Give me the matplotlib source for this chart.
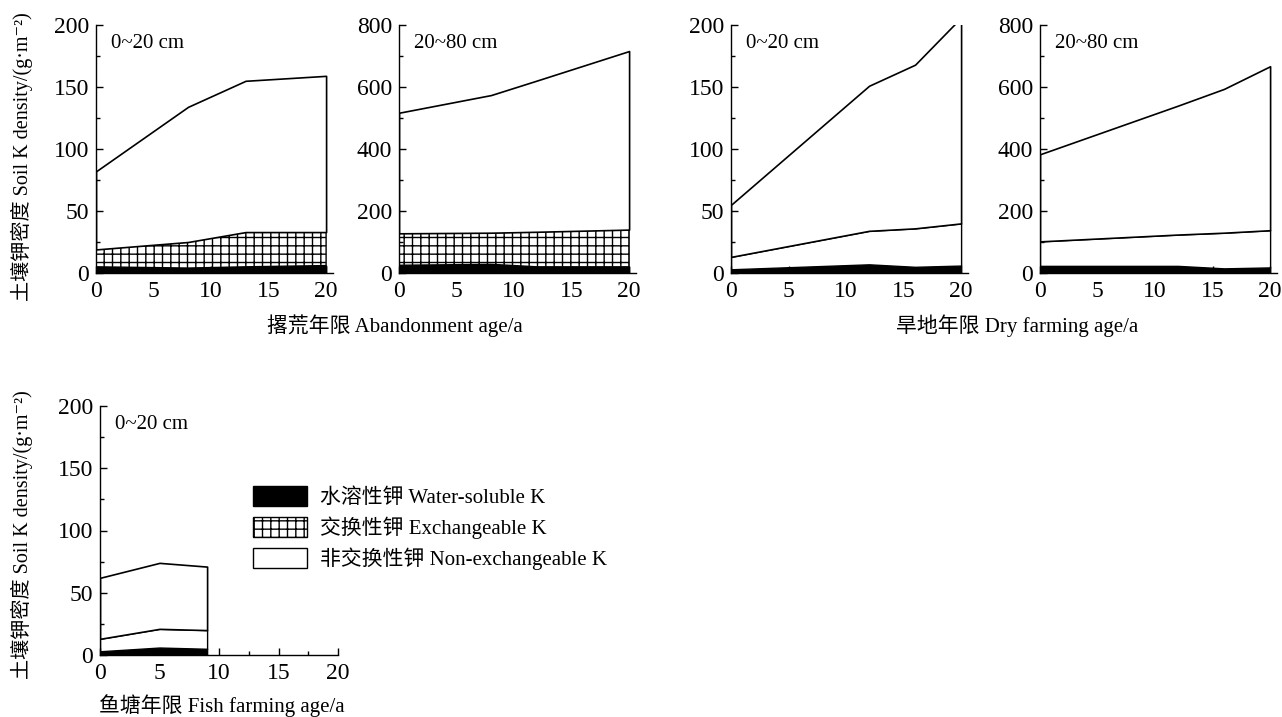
import numpy as np
import matplotlib
matplotlib.use('Agg')
import matplotlib.pyplot as plt
from matplotlib.patches import Patch

plt.rcParams['font.family'] = ['Liberation Serif', 'Noto Sans CJK SC', 'DejaVu Serif']
plt.rcParams['hatch.linewidth'] = 1.0

# cumulative boundaries (g/m2)
aband_x = [0, 8, 13, 20]
aband_top_water = [5, 4, 5, 6]
aband_top_exch = [19, 25, 33, 33]
aband_top_total = [82, 134, 155, 159]

aband_sub_x = [0, 8, 12, 20]
aband_sub_water = [25, 28, 20, 20]
aband_sub_exch = [128, 130, 133, 140]
aband_sub_total = [517, 574, 621, 716]

dry_x = [0, 12, 16, 20]
dry_top_water = [3, 7, 5, 6]
dry_top_exch = [13, 34, 36, 40]
dry_top_total = [55, 151, 168, 206]

dry_sub_x = [0, 12, 16, 20]
dry_sub_water = [23, 23, 15, 18]
dry_sub_exch = [102, 124, 130, 138]
dry_sub_total = [383, 540, 594, 667]

fish_x = [0, 5, 9]
fish_water = [3, 6, 5]
fish_exch = [13, 21, 20]
fish_total = [62, 74, 71]

FS = 15
TFS = 17
W, H = 1282, 717

fig = plt.figure(figsize=(W / 100, H / 100), dpi=100)


def make_ax(left, top, width, height):
    return fig.add_axes([left / W, 1 - (top + height) / H, width / W, height / H])


def draw(ax, x, water, exch, total, ymax, label, hatched, xmax=20.6):
    x = np.array(x)
    ax.fill_between(x, 0, water, facecolor='black', edgecolor='black', lw=1)
    ax.fill_between(x, water, exch, facecolor='white', edgecolor='black', lw=1,
                    hatch='++' if hatched else None)
    ax.fill_between(x, exch, total, facecolor='white', edgecolor='black', lw=1.2)
    ax.set_xlim(0, xmax)
    ax.set_ylim(0, ymax)
    ax.spines['top'].set_visible(False)
    ax.spines['right'].set_visible(False)
    ax.spines['left'].set_bounds(0, ymax)
    ax.set_xticks([0, 5, 10, 15, 20])
    ax.set_xticks([2.5, 7.5, 12.5, 17.5], minor=True)
    ax.set_yticks(np.linspace(0, ymax, 5))
    ax.set_yticks(np.linspace(ymax / 8, ymax * 7 / 8, 4), minor=True)
    ax.tick_params(direction='in', length=5, width=1, labelsize=TFS)
    ax.tick_params(which='minor', direction='in', length=3, width=1)
    ax.tick_params(axis='x', pad=6)
    ax.tick_params(axis='y', pad=5)
    ax.text(0.065, 0.925, label, transform=ax.transAxes, fontsize=FS, va='center')
    for s in ax.spines.values():
        s.set_linewidth(1)


ax1 = make_ax(96, 25, 237, 248)
draw(ax1, aband_x, aband_top_water, aband_top_exch, aband_top_total, 200, '0~20 cm', True)
ax2 = make_ax(399, 25, 237, 248)
draw(ax2, aband_sub_x, aband_sub_water, aband_sub_exch, aband_sub_total, 800, '20~80 cm', True)
ax3 = make_ax(731, 25, 237, 248)
draw(ax3, dry_x, dry_top_water, dry_top_exch, dry_top_total, 200, '0~20 cm', False)
ax4 = make_ax(1040, 25, 237, 248)
draw(ax4, dry_sub_x, dry_sub_water, dry_sub_exch, dry_sub_total, 800, '20~80 cm', False)
ax5 = make_ax(100, 406, 238, 249)
draw(ax5, fish_x, fish_water, fish_exch, fish_total, 200, '0~20 cm', False, xmax=20)

ylab = '土壤钾密度 Soil K density/(g·m⁻²)'
fig.text(22 / W, 1 - 157 / H, ylab, rotation=90, fontsize=14.5, ha='center', va='center')
fig.text(22 / W, 1 - 535 / H, ylab, rotation=90, fontsize=14.5, ha='center', va='center')

fig.text(395 / W, 1 - 326 / H, '撂荒年限 Abandonment age/a', fontsize=FS, ha='center', va='center')
fig.text(1017 / W, 1 - 326 / H, '旱地年限 Dry farming age/a', fontsize=FS, ha='center', va='center')
fig.text(222 / W, 1 - 706 / H, '鱼塘年限 Fish farming age/a', fontsize=FS, ha='center', va='center')

handles = [Patch(facecolor='black', edgecolor='black'),
           Patch(facecolor='white', edgecolor='black', hatch='++'),
           Patch(facecolor='white', edgecolor='black')]
labels = ['水溶性钾 Water-soluble K', '交换性钾 Exchangeable K', '非交换性钾 Non-exchangeable K']
fig.legend(handles, labels, loc='upper left', bbox_to_anchor=(253 / W, 1 - 486 / H),
           frameon=False, fontsize=FS, handlelength=2.6, handleheight=1.1,
           handletextpad=0.6, labelspacing=0.4, borderpad=0, borderaxespad=0)

fig.savefig('out.png', dpi=100)
